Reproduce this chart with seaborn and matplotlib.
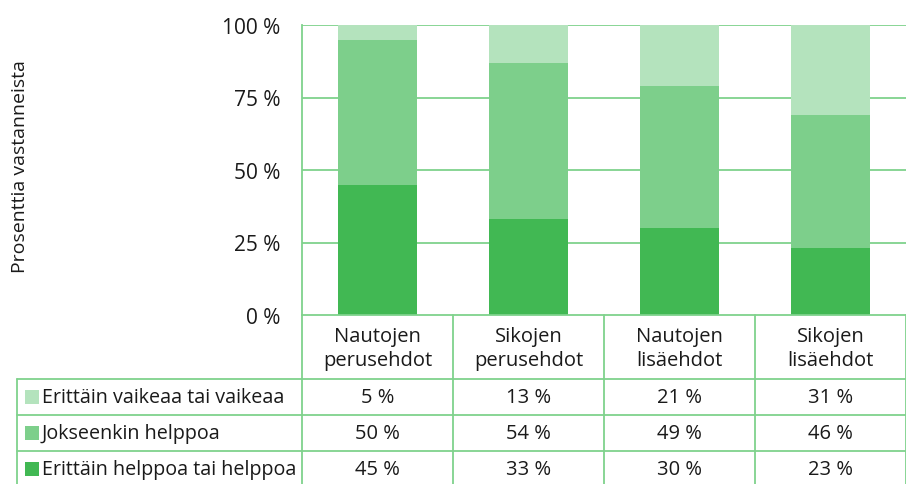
"""Stacked bar chart of answer shares with a data table underneath."""

import matplotlib

matplotlib.use("Agg")
import matplotlib.pyplot as plt
import pandas as pd
import seaborn as sns

categories = ["Nautojen\nperusehdot", "Sikojen\nperusehdot", "Nautojen\nlisäehdot", "Sikojen\nlisäehdot"]
series_names = ["Erittäin vaikeaa tai vaikeaa", "Jokseenkin helppoa", "Erittäin helppoa tai helppoa"]
hard = [5, 13, 21, 31]
somewhat_easy = [50, 54, 49, 46]
easy = [45, 33, 30, 23]
y_ticks = [0, 25, 50, 75, 100]

COLORS = {
    series_names[0]: "#b4e3bd",
    series_names[1]: "#7dcf8b",
    series_names[2]: "#41b853",
}
LINE = "#7fd28c"
W, H = 906, 485
FS = 14.5

sns.set_theme(style="white")
plt.rcParams["font.family"] = ["Open Sans", "DejaVu Sans"]

df = pd.DataFrame({
    "category": categories,
    series_names[2]: easy,
    series_names[1]: somewhat_easy,
    series_names[0]: hard,
})

fig = plt.figure(figsize=(W / 100, H / 100), dpi=100)

# plot region in pixel coordinates
px_left, px_right, px_top, px_bottom = 302, 906, 26, 316
ax = fig.add_axes([px_left / W, 1 - px_bottom / H, (px_right - px_left) / W, (px_bottom - px_top) / H])

bottom = [0] * len(categories)
for name in [series_names[2], series_names[1], series_names[0]]:
    sns.barplot(data=df, x="category", y=name, color=COLORS[name], width=0.52,
                bottom=bottom, ax=ax, saturation=1, linewidth=0)
    bottom = [b + v for b, v in zip(bottom, df[name])]

ax.set_ylim(0, 100)
ax.set_xlim(-0.5, len(categories) - 0.5)
ax.set_yticks(y_ticks)
ax.set_yticklabels([f"{t} %" for t in y_ticks], fontsize=15, color="#1a1a1a")
ax.tick_params(axis="y", length=0, pad=15.5)
ax.set_xticks([])
ax.set_xlabel("")
ax.set_ylabel("")
for t in y_ticks[1:]:
    ax.axhline(t, color=LINE, lw=1.3, zorder=0)
for side in ["top", "right", "bottom"]:
    ax.spines[side].set_visible(False)
ax.spines["left"].set_color(LINE)
ax.spines["left"].set_linewidth(1.3)

fig.text(20 / W, 1 - 167 / H, "Prosenttia vastanneista", rotation=90,
         ha="center", va="center", fontsize=14, color="#1a1a1a")

# data table below the bars
tax = fig.add_axes([0, 0, 1, 1])
tax.set_xlim(0, W)
tax.set_ylim(H, 0)
tax.axis("off")

col_w = (px_right - px_left) / len(categories)
tab_left = 17
row_lines = [380, 416, 452, 488]
lw = 1.3
tax.plot([px_left, W], [px_bottom, px_bottom], color=LINE, lw=lw)
for y in row_lines[:-1]:
    tax.plot([tab_left, W], [y, y], color=LINE, lw=lw)
tax.plot([tab_left, tab_left], [row_lines[0], H], color=LINE, lw=lw)
for i in range(len(categories) + 1):
    x = px_left + i * col_w
    tax.plot([x, x], [px_bottom, H], color=LINE, lw=lw)

for i, cat in enumerate(categories):
    tax.text(px_left + (i + 0.5) * col_w, (px_bottom + row_lines[0]) / 2 + 1, cat,
             ha="center", va="center", fontsize=FS, color="#1a1a1a", linespacing=1.3)

table_rows = [hard, somewhat_easy, easy]
for r, (name, vals) in enumerate(zip(series_names, table_rows)):
    yc = (row_lines[r] + row_lines[r + 1]) / 2
    tax.scatter([32], [yc], marker="s", s=90, color=COLORS[name], linewidths=0)
    tax.text(42, yc, name, ha="left", va="center", fontsize=14.2, color="#1a1a1a")
    for i, v in enumerate(vals):
        tax.text(px_left + (i + 0.5) * col_w, yc, f"{v} %", ha="center", va="center",
                 fontsize=FS, color="#1a1a1a")

fig.savefig("out.png", dpi=100)
